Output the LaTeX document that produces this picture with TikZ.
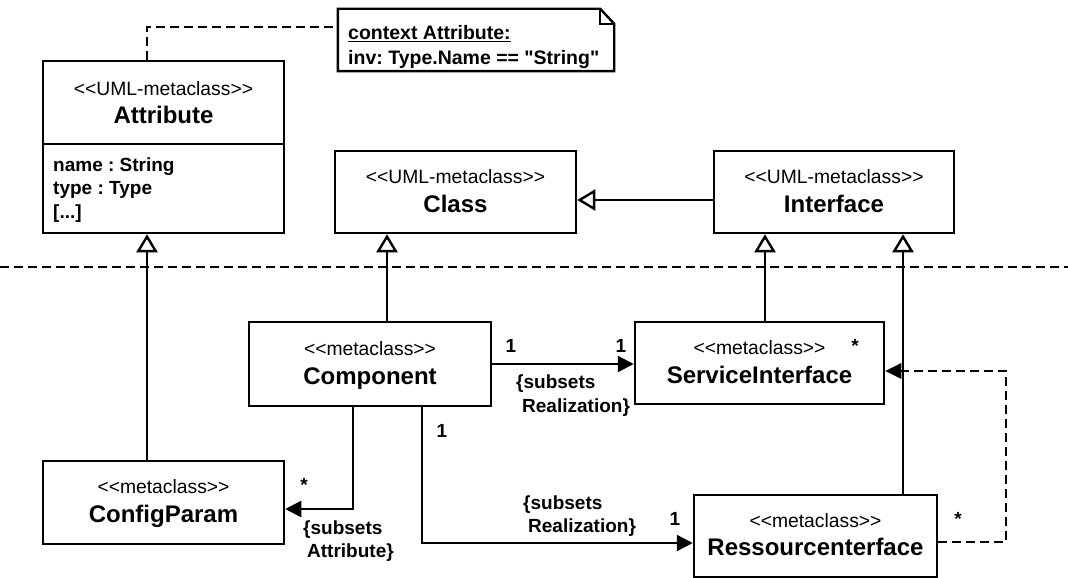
\documentclass[tikz,border=0pt]{standalone}
\usepackage{fontspec}
\setmainfont{Liberation Sans}[Ligatures=TeXOff]
\usetikzlibrary{arrows.meta,calc}
\frenchspacing

\tikzset{
  box/.style={draw, line width=2.5pt, fill=white, inner sep=0pt},
  edge line/.style={line width=2.4pt},
  dashline/.style={line width=2.4pt, dash pattern=on 9pt off 5pt},
  stereo/.style={font=\fontsize{19.3}{23}\selectfont, text height=13.8pt, text depth=0pt, inner sep=0pt},
  cname/.style={font=\fontsize{24}{28}\selectfont\bfseries, text height=17.2pt, text depth=0pt, inner sep=0pt},
  lbl/.style={font=\fontsize{19}{23}\selectfont\bfseries, text height=13.6pt, text depth=0pt, inner sep=0pt},
  notetext/.style={font=\fontsize{19.5}{23}\selectfont\bfseries, text height=14pt, text depth=0pt, inner sep=0pt, anchor=west},
  star/.style={font=\fontsize{19}{23}\selectfont\bfseries, inner sep=0pt, anchor=base},
  gen/.style={edge line, -{Triangle[open, length=18pt, width=21pt]}},
  assoc/.style={edge line, -{Triangle[length=16pt, width=16pt]}},
  dashassoc/.style={dashline, -{Triangle[length=16pt, width=16pt, line width=0pt]}},
}

\begin{document}
\begin{tikzpicture}[x=1pt, y=-1pt]
\path[use as bounding box, fill=white] (0,0) rectangle (1068,578);

% package separator
\draw[dashline] (0,267) -- (1068,267);

% ---------- metaclass boxes ----------
\node[box, minimum width=241pt, minimum height=172pt] (attr) at (163.5,147) {};
\draw[edge line] (attr.west |- 0,144) -- (attr.east |- 0,144);
\node[stereo] (attrst) at (163.5,89) {<<UML-metaclass>>};
\node[cname] (attrnm) at (163.5,115) {Attribute};
\node[lbl, anchor=west] (attrf1) at (53,165) {name : String};
\node[lbl, anchor=west] (attrf2) at (53,188) {type : Type};
\node[lbl, anchor=west] (attrf3) at (53,212) {[...]};

\node[box, minimum width=241pt, minimum height=82pt] (cls) at (455.5,192) {};
\node[stereo] (clsst) at (455.5,177) {<<UML-metaclass>>};
\node[cname] (clsnm) at (455.5,203.5) {Class};

\node[box, minimum width=240pt, minimum height=82pt] (iface) at (834,192) {};
\node[stereo] (ifst) at (834,177) {<<UML-metaclass>>};
\node[cname] (ifnm) at (834,203.5) {Interface};

\node[box, minimum width=242pt, minimum height=84pt] (comp) at (370,364) {};
\node[stereo] (compst) at (370,349) {<<metaclass>>};
\node[cname] (compnm) at (370,376) {Component};

\node[box, minimum width=249pt, minimum height=82pt] (si) at (759.5,363) {};
\node[stereo] (sist) at (759.5,348) {<<metaclass>>};
\node[cname] (sinm) at (759.5,375) {ServiceInterface};

\node[box, minimum width=241pt, minimum height=83pt] (cfg) at (163.5,502.5) {};
\node[stereo] (cfgst) at (163.5,487) {<<metaclass>>};
\node[cname] (cfgnm) at (163.5,513.5) {ConfigParam};

\node[box, minimum width=243pt, minimum height=82pt] (res) at (815.5,536) {};
\node[stereo] (resst) at (815.5,521) {<<metaclass>>};
\node[cname] (resnm) at (815.5,547) {Ressourcenterface};

% ---------- OCL note ----------
\node[inner sep=0pt, minimum width=276pt, minimum height=62pt] (note) at (476,40) {};
\draw[edge line, fill=white, line join=miter]
  (note.north west) -- ($(note.north east)+(-14,0)$) -- ($(note.north east)+(0,15)$)
  -- (note.south east) -- (note.south west) -- cycle;
\draw[edge line] ($(note.north east)+(-14,0)$) -- ($(note.north east)+(-14,15)$) -- ($(note.north east)+(0,15)$);
\node[notetext] (ctx) at (348,33) {\underline{context Attribute:}};
\node[notetext] (inv) at (348,58) {inv: Type.Name == "String"};

\coordinate (lk) at (147,27);
\draw[dashline] (attr.north -| lk) -- (lk) -- (lk -| note.west);

% ---------- generalizations ----------
\coordinate (gA) at (147,0);
\coordinate (gC) at (387,0);
\coordinate (gS) at (765,0);
\coordinate (gR) at (903,0);
\coordinate (gI) at (0,200);
\draw[gen] (cfg.north -| gA) -- (attr.south -| gA);
\draw[gen] (comp.north -| gC) -- (cls.south -| gC);
\draw[gen] (si.north -| gS) -- (iface.south -| gS);
\draw[gen] (res.north -| gR) -- (iface.south -| gR);
\draw[gen] (iface.west |- gI) -- (cls.east |- gI);

% ---------- associations ----------
\coordinate (aP) at (353,509);
\draw[assoc] (comp.south -| aP) -- (aP) -- (aP -| cfg.east);
\draw[assoc] (comp.east) -- (comp.east -| si.west);
\coordinate (aR) at (422,543);
\draw[assoc] (comp.south -| aR) -- (aR) -- (aR -| res.west);
\coordinate (dR) at (1006,542);
\coordinate (dS) at (1006,371);
\draw[dashassoc] (res.east |- dR) -- (dR) -- (dS) -- (dS -| si.east);

% ---------- association labels ----------
\node[lbl] (m1) at (511,346) {1};
\node[lbl] (m2) at (621,346) {1};
\node[lbl, anchor=west] (r1a) at (516,382) {\{subsets};
\node[lbl, anchor=west] (r1b) at (522,406) {Realization\}};

\node[lbl] (m3) at (442,431) {1};
\node[lbl, anchor=west] (r2a) at (523,503) {\{subsets};
\node[lbl, anchor=west] (r2b) at (528,526) {Realization\}};
\node[lbl] (m4) at (675,519) {1};

\node[star] (m5) at (304,491) {*};
\node[lbl, anchor=west] (r3a) at (303,528) {\{subsets};
\node[lbl, anchor=west] (r3b) at (307,551) {Attribute\}};

\node[star] (m6) at (855,352) {*};
\node[star] (m7) at (958,525) {*};
\end{tikzpicture}
\end{document}
